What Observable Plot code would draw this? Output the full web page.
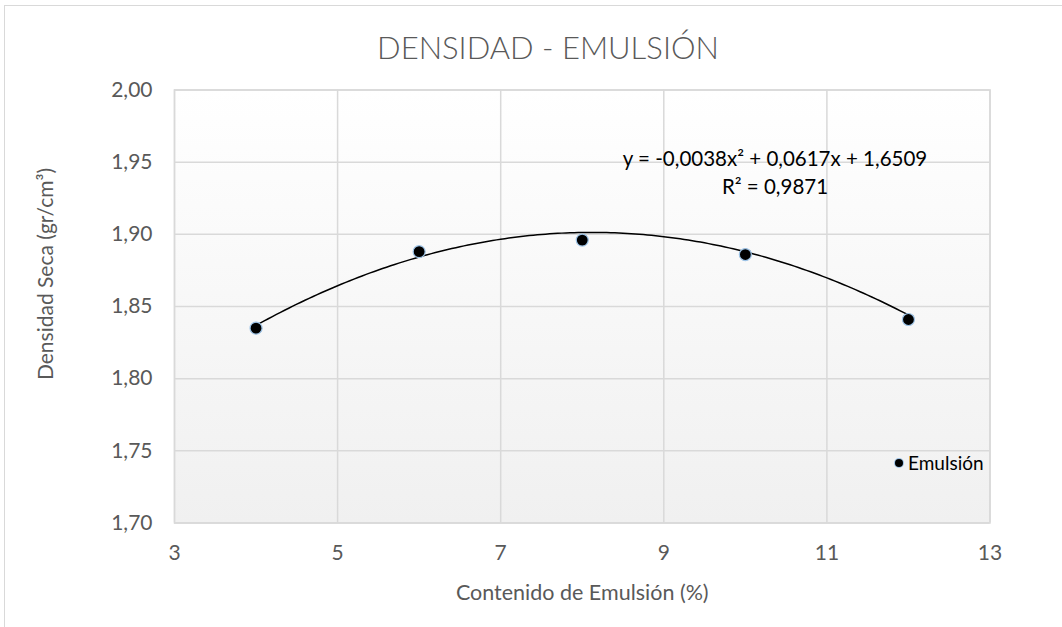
<!DOCTYPE html>
<html><head><meta charset="utf-8">
<script src="https://cdn.jsdelivr.net/npm/d3@7"></script>
<script src="https://cdn.jsdelivr.net/npm/@observablehq/plot@0.6"></script>
<style>
body{margin:0;background:#fff;overflow:hidden;font-family:Lato,"Open Sans",sans-serif}
#wrap{position:relative;width:1062px;height:627px;overflow:hidden}
#border{position:absolute;left:4px;top:5px;width:1100px;height:700px;border:1px solid #d9d9d9;box-sizing:border-box}
#title{position:relative;height:70px;box-sizing:border-box;padding-top:31px;line-height:32px;font-size:31px;font-weight:300;color:#595959;text-align:center;padding-left:34px}
#chart{position:relative}
#eq{position:absolute;left:575px;width:400px;top:144px;text-align:center;font-size:20.5px;line-height:28px;color:#000}
#legend{position:absolute;left:895px;top:450px;font-size:19px;line-height:26px;color:#000;display:flex;align-items:center}
#legend .dot{width:8px;height:8px;border-radius:50%;background:#000;box-shadow:0 0 0 1px #9dc3e6;margin-right:5px}
#ytitle{position:absolute;left:44px;top:274px;transform:translate(-50%,-50%) rotate(-90deg);white-space:nowrap;font-size:21px;color:#595959}
</style></head><body>
<div id="wrap">
 <div id="border"></div>
 <div id="title">DENSIDAD - EMULSIÓN</div>
 <div id="chart"></div>
 <div id="eq"></div>
 <div id="legend"></div>
 <div id="ytitle"></div>
</div>
<script>
const contenido = [4, 6, 8, 10, 12];
const densidad = [1.835, 1.888, 1.896, 1.886, 1.841];
const xTicks = [3, 5, 7, 9, 11, 13];
const yTicks = [1.70, 1.75, 1.80, 1.85, 1.90, 1.95, 2.00];
const trendCoef = [-0.0038, 0.0617, 1.6509];
const rSquared = 0.9871;
const seriesName = "Emulsión";
const xTitle = "Contenido de Emulsión (%)";
const yTitle = "Densidad Seca (gr/cm³)";

const comma = (v, d) => v.toFixed(d).replace(".", ",");
const points = contenido.map((x, i) => ({x, y: densidad[i]}));
const [a, b, c] = trendCoef;
const x0 = d3.min(contenido), x1 = d3.max(contenido);
const trend = d3.range(0, 161).map(i => { const x = x0 + (x1 - x0) * i / 160; return {x, y: a*x*x + b*x + c}; });

document.getElementById("eq").innerHTML = `<div>y = ${comma(a,4)}x² + ${comma(b,4)}x + ${comma(c,4)}</div><div>R² = ${comma(rSquared,4)}</div>`;
document.getElementById("legend").innerHTML = `<span class="dot"></span><span>${seriesName}</span>`;
document.getElementById("ytitle").textContent = yTitle;

const chart = Plot.plot({
  width: 1062,
  height: 557,
  marginLeft: 174,
  marginRight: 72.5,
  marginTop: 19.5,
  marginBottom: 104.5,
  style: {fontFamily: "Lato, 'Open Sans', sans-serif", background: "transparent", overflow: "visible"},
  x: {domain: [3, 13]},
  y: {domain: [1.70, 2.00]},
  marks: [
    Plot.frame({fill: "url(#plotBg)", stroke: null}),
    Plot.gridX(xTicks, {stroke: "#d9d9d9", strokeOpacity: 1, strokeWidth: 1.5}),
    Plot.gridY(yTicks, {stroke: "#d9d9d9", strokeOpacity: 1, strokeWidth: 1.5}),
    Plot.frame({stroke: "#d9d9d9", strokeWidth: 1.5}),
    Plot.axisX(xTicks, {tickSize: 0, tickPadding: 22, fontSize: 21, fill: "#595959", tickFormat: d => String(d),
      label: xTitle, labelAnchor: "center", labelArrow: "none", labelOffset: 77}),
    Plot.axisY(yTicks, {tickSize: 0, tickPadding: 22, fontSize: 21, fill: "#595959", tickFormat: d => comma(d, 2), label: null}),
    Plot.line(trend, {x: "x", y: "y", stroke: "#000", strokeWidth: 1.5}),
    Plot.dot(points, {x: "x", y: "y", r: 6, fill: "#000", stroke: "#9dc3e6", strokeWidth: 1.2})
  ]
});
const ns = "http://www.w3.org/2000/svg";
const defs = document.createElementNS(ns, "defs");
defs.innerHTML = `<linearGradient id="plotBg" x1="0" y1="0" x2="0" y2="1"><stop offset="0" stop-color="#ffffff"/><stop offset="1" stop-color="#f0f0f0"/></linearGradient>`;
chart.insertBefore(defs, chart.firstChild);
chart.querySelectorAll("g[aria-label='x-axis label']").forEach(n => { n.setAttribute("font-size", 21.5); n.setAttribute("fill", "#595959"); });
document.getElementById("chart").appendChild(chart);
</script>
</body></html>
